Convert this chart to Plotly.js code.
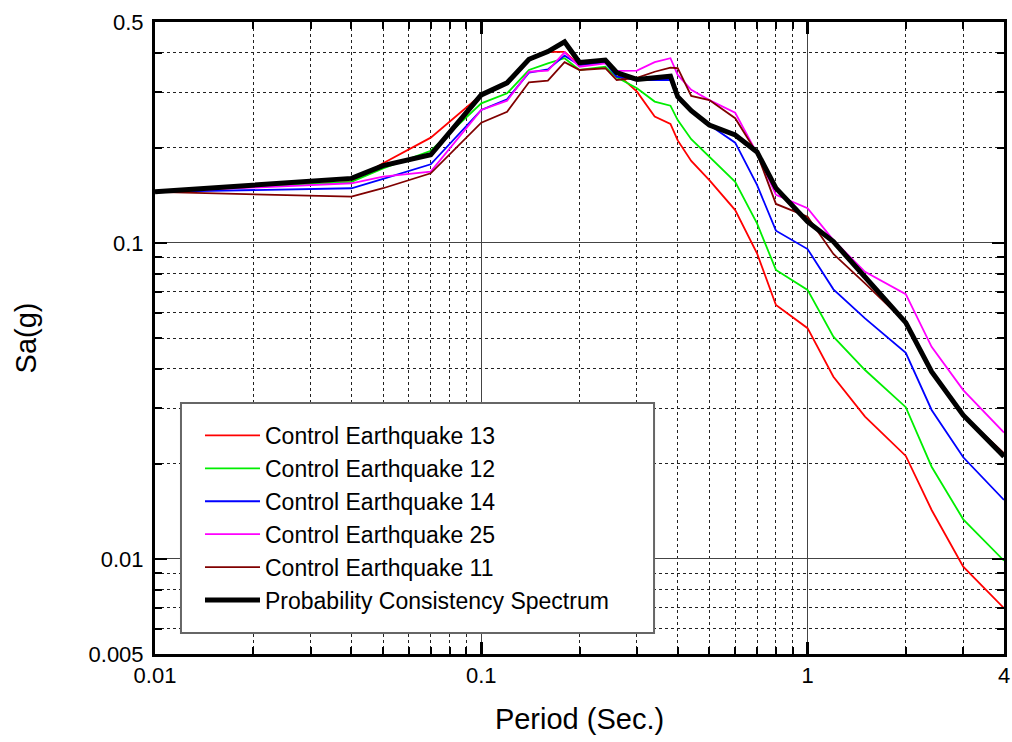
<!DOCTYPE html>
<html>
<head>
<meta charset="utf-8">
<script src="https://cdn.plot.ly/plotly-3.0.1.min.js"></script>
<style>html,body{margin:0;padding:0;background:#fff;}#chart{width:1012px;height:742px;}</style>
</head>
<body>
<div id="chart"></div>
<script>
// Periods (s)
const periods = [0.01,0.04,0.05,0.07,0.1,0.12,0.14,0.16,0.18,0.2,0.24,0.26,0.3,0.34,0.38,0.4,0.44,0.5,0.6,0.7,0.8,1.0,1.2,1.5,2.0,2.4,3.0,4.0];

// Spectral accelerations Sa(g)
const eq13 = [0.145,0.156,0.1786,0.2153,0.294,0.320,0.378,0.402,0.402,0.365,0.376,0.344,0.301,0.251,0.238,0.211,0.1816,0.158,0.127,0.0927,0.0636,0.0537,0.0377,0.0282,0.02117,0.01428,0.00945,0.00698];
const eq12 = [0.145,0.156,0.172,0.1957,0.2764,0.2975,0.3524,0.370,0.384,0.3524,0.361,0.334,0.3084,0.280,0.2717,0.2446,0.2128,0.1874,0.156,0.1153,0.0821,0.0710,0.0505,0.0396,0.0302,0.01957,0.01334,0.00987];
const eq14 = [0.145,0.1489,0.1593,0.1773,0.2633,0.2847,0.3456,0.354,0.3913,0.3655,0.3716,0.3357,0.3277,0.3277,0.3277,0.287,0.260,0.236,0.2075,0.1525,0.1093,0.0956,0.0713,0.0577,0.0449,0.0296,0.02097,0.01536];
const eq25 = [0.145,0.1544,0.162,0.168,0.2633,0.2818,0.348,0.351,0.401,0.361,0.370,0.350,0.351,0.373,0.384,0.340,0.305,0.283,0.258,0.192,0.142,0.1287,0.102,0.081,0.0688,0.0469,0.0342,0.0251];
const eq11 = [0.145,0.140,0.1489,0.166,0.240,0.260,0.3222,0.326,0.373,0.3524,0.357,0.3277,0.333,0.348,0.3585,0.357,0.2916,0.283,0.248,0.192,0.1328,0.121,0.0922,0.0744,0.0559,0.0391,0.0285,0.0216];
const pcs  = [0.145,0.160,0.1755,0.190,0.294,0.321,0.381,0.403,0.433,0.372,0.379,0.346,0.329,0.332,0.337,0.290,0.262,0.236,0.2195,0.194,0.149,0.1167,0.1009,0.078,0.0559,0.0391,0.0285,0.0211];

const seriesNames = ["Control Earthquake 13","Control Earthquake 12","Control Earthquake 14","Control Earthquake 25","Control Earthquake 11","Probability Consistency Spectrum"];
const seriesColors = ["#ff0000","#00ee00","#0000ff","#ff00ff","#800000","#000000"];
const seriesWidths = [1.8,1.8,1.8,1.8,1.8,5];
const seriesData = [eq13,eq12,eq14,eq25,eq11,pcs];

const xTickVals = [0.01,0.1,1,4];
const xTickText = ["0.01","0.1","1","4"];
const yTickVals = [0.005,0.01,0.1,0.5];
const yTickText = ["0.005","0.01","0.1","0.5"];
const xMinorVals = [0.02,0.03,0.04,0.05,0.06,0.07,0.08,0.09,0.2,0.3,0.4,0.5,0.6,0.7,0.8,0.9,2,3];
const yMinorVals = [0.006,0.007,0.008,0.009,0.02,0.03,0.04,0.05,0.06,0.07,0.08,0.09,0.2,0.3,0.4];

const FONT = "Arial, 'Liberation Sans', Helvetica, sans-serif";

const traces = seriesData.map((d,i)=>({
  x: periods, y: d, type: 'scatter', mode: 'lines', name: seriesNames[i],
  line: {color: seriesColors[i], width: seriesWidths[i]}
}));

const axisCommon = {
  type: 'log', showline: true, linecolor: '#000', linewidth: 3, mirror: 'allticks',
  ticks: 'inside', ticklen: 12, tickwidth: 2.5, tickcolor: '#000',
  showgrid: true, gridcolor: '#444', gridwidth: 1,
  zeroline: false, tickmode: 'array',
  tickfont: {family: FONT, size: 22, color: '#000'}
};

const layout = {
  width: 1012, height: 742,
  margin: {l: 155, r: 8, t: 22, b: 88},
  paper_bgcolor: '#fff', plot_bgcolor: '#fff',
  showlegend: true,
  font: {family: FONT, color: '#000'},
  xaxis: Object.assign({}, axisCommon, {
    range: [Math.log10(0.01), Math.log10(4)],
    tickvals: xTickVals, ticktext: xTickText,
    ticklabelstandoff: 0,
    minor: {tickmode: 'array', tickvals: xMinorVals, ticks: 'inside', ticklen: 7, tickwidth: 2, tickcolor: '#000',
            showgrid: true, gridcolor: '#222', gridwidth: 1, griddash: 'dot'},
    title: {text: 'Period (Sec.)', font: {family: FONT, size: 29, color: '#000'}, standoff: 22}
  }),
  yaxis: Object.assign({}, axisCommon, {
    range: [Math.log10(0.005), Math.log10(0.5)],
    tickvals: yTickVals, ticktext: yTickText,
    ticklabelstandoff: 4,
    minor: {tickmode: 'array', tickvals: yMinorVals, ticks: 'inside', ticklen: 7, tickwidth: 2, tickcolor: '#000',
            showgrid: true, gridcolor: '#222', gridwidth: 1, griddash: 'dot'},
    title: {text: 'Sa(g)', font: {family: FONT, size: 29, color: '#000'}, standoff: 44}
  }),
  legend: {
    x: 0.053, xanchor: 'left', y: 0.2152, yanchor: 'middle',
    bgcolor: 'rgba(0,0,0,0)', borderwidth: 0, itemwidth: 55,
    font: {family: FONT, size: 23, color: '#000'}
  },
  shapes: [{
    type: 'rect', xref: 'paper', yref: 'paper', x0: 0.0306, x1: 0.5878, y0: 0.0332, y1: 0.397,
    fillcolor: '#fff', line: {color: '#666', width: 2}, layer: 'above'
  }]
};

Plotly.newPlot('chart', traces, layout, {displayModeBar: false, staticPlot: true});
</script>
</body>
</html>
